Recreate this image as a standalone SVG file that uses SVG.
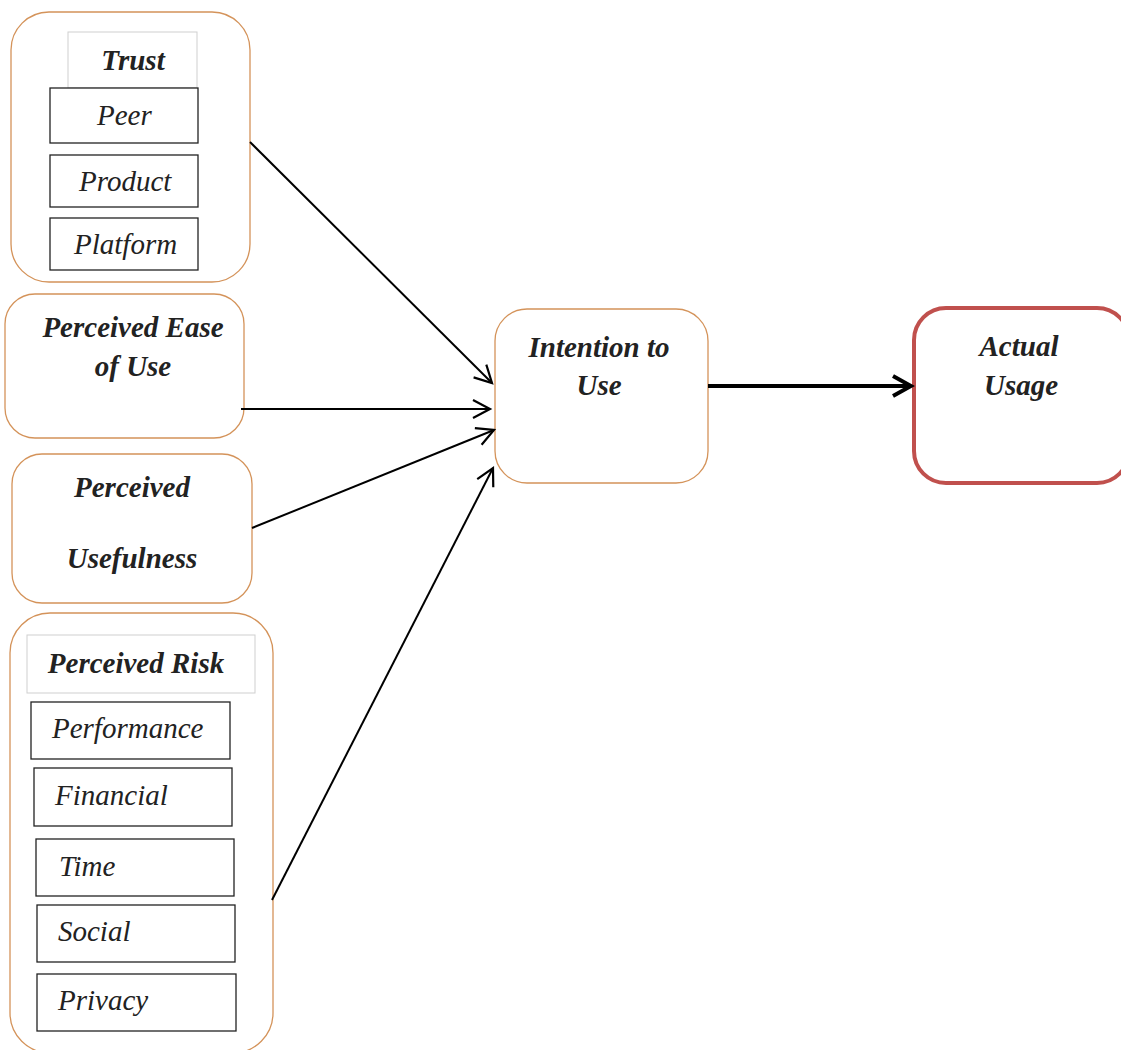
<svg xmlns="http://www.w3.org/2000/svg" width="1121" height="1050" viewBox="0 0 1121 1050">
<style>
.outer{fill:#fff;stroke:#d4935a;stroke-width:1.3}
.hdr{fill:#fff;stroke:#cfcfcf;stroke-width:1}
.sub{fill:#fff;stroke:#222;stroke-width:1.3}
.bt{font-family:"Liberation Serif",serif;font-weight:bold;font-style:italic;font-size:29px;fill:#222;text-anchor:middle}
.it{font-family:"Liberation Serif",serif;font-style:italic;font-size:29px;fill:#222}
.con{stroke:#000;stroke-width:2;fill:none}
</style>
<defs>
<marker id="arr" markerWidth="24" markerHeight="24" refX="20" refY="12" orient="auto" markerUnits="userSpaceOnUse">
<path d="M3,3 L20,12 L3,21" fill="none" stroke="#000" stroke-width="2.2"/>
</marker>
<marker id="arrT" markerWidth="26" markerHeight="26" refX="22" refY="13" orient="auto" markerUnits="userSpaceOnUse">
<path d="M4,3 L22,13 L4,23" fill="none" stroke="#000" stroke-width="4"/>
</marker>
</defs>
<rect width="1121" height="1050" fill="#fff"/>
<g id="trust">
<rect class="outer" x="11" y="12" width="239" height="270" rx="38"/>
<rect class="hdr" x="68" y="32" width="129" height="56"/>
<text class="bt" x="133" y="70">Trust</text>
<rect class="sub" x="50" y="88" width="148" height="55"/>
<text class="it" x="97" y="125">Peer</text>
<rect class="sub" x="50" y="155" width="148" height="52"/>
<text class="it" x="79" y="191">Product</text>
<rect class="sub" x="50" y="218" width="148" height="52"/>
<text class="it" x="74" y="254">Platform</text>
</g>
<g id="ease">
<rect class="outer" x="5" y="294" width="239" height="144" rx="30"/>
<text class="bt" x="133" y="337">Perceived Ease</text>
<text class="bt" x="133" y="376">of Use</text>
</g>
<g id="usefulness">
<rect class="outer" x="12" y="454" width="240" height="149" rx="30"/>
<text class="bt" x="132" y="497">Perceived</text>
<text class="bt" x="132" y="568">Usefulness</text>
</g>
<g id="risk">
<rect class="outer" x="10" y="613" width="263" height="440" rx="40"/>
<rect class="hdr" x="27" y="635" width="228" height="58"/>
<text class="bt" x="136" y="673">Perceived Risk</text>
<rect class="sub" x="31" y="702" width="199" height="57"/>
<text class="it" x="52" y="738">Performance</text>
<rect class="sub" x="34" y="768" width="198" height="58"/>
<text class="it" x="55" y="805">Financial</text>
<rect class="sub" x="36" y="839" width="198" height="57"/>
<text class="it" x="59" y="876">Time</text>
<rect class="sub" x="37" y="905" width="198" height="57"/>
<text class="it" x="58" y="941">Social</text>
<rect class="sub" x="37" y="974" width="199" height="57"/>
<text class="it" x="58" y="1010">Privacy</text>
</g>
<g id="intention">
<rect class="outer" x="495" y="309" width="213" height="174" rx="32"/>
<text class="bt" x="599" y="357">Intention to</text>
<text class="bt" x="599" y="395">Use</text>
</g>
<g id="usage">
<rect x="914" y="308" width="215" height="175" rx="32" fill="#fff" stroke="#c0504d" stroke-width="4"/>
<text class="bt" x="1019" y="356">Actual</text>
<text class="bt" x="1021" y="395">Usage</text>
</g>
<g id="connectors">
<line class="con" x1="250" y1="142" x2="492" y2="383" marker-end="url(#arr)"/>
<line class="con" x1="241" y1="409" x2="490" y2="409" marker-end="url(#arr)"/>
<line class="con" x1="252" y1="528" x2="494" y2="430" marker-end="url(#arr)"/>
<line class="con" x1="272" y1="900" x2="493" y2="468" marker-end="url(#arr)"/>
<line x1="708" y1="386" x2="911" y2="386" stroke="#000" stroke-width="4" marker-end="url(#arrT)"/>
</g>
</svg>
